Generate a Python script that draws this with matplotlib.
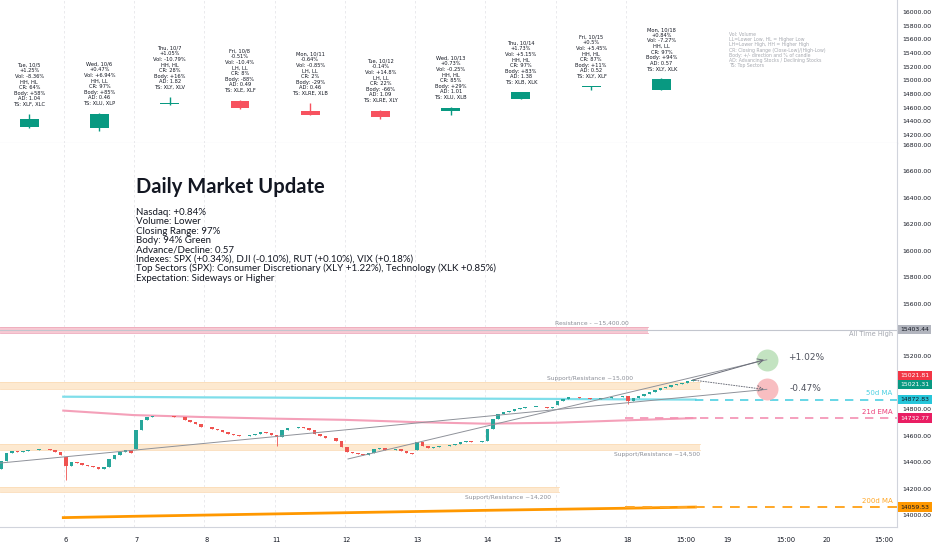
import numpy as np
import matplotlib.pyplot as plt

plt.rcParams['font.family'] = ['DejaVu Sans']

# ---- daily candles (top pane) ----
daily_names = ["Tue, 10/5", "Wed, 10/6", "Thu, 10/7", "Fri, 10/8", "Mon, 10/11",
               "Tue, 10/12", "Wed, 10/13", "Thu, 10/14", "Fri, 10/15", "Mon, 10/18"]
daily_open = [14317, 14302, 14653, 14698, 14551, 14551, 14551, 14727, 14905, 14860]
daily_high = [14507, 14522, 14756, 14712, 14668, 14566, 14610, 14834, 14922, 15030]
daily_low = [14302, 14258, 14639, 14580, 14490, 14434, 14493, 14722, 14862, 14855]
daily_close = [14434, 14507, 14672, 14595, 14493, 14463, 14590, 14829, 14917, 15021]
daily_chg = ["+1.25%", "+0.47%", "+1.05%", "-0.51%", "-0.64%", "-0.14%", "+0.73%", "+1.73%", "+0.5%", "+0.84%"]
daily_vol = ["-8.36%", "+6.94%", "-10.79%", "-10.4%", "-0.85%", "+14.8%", "-0.25%", "+5.15%", "+5.45%", "-7.27%"]
daily_hl = ["HH, HL", "HH, LL", "HH, HL", "LH, LL", "LH, LL", "LH, LL", "HH, HL", "HH, HL", "HH, HL", "HH, LL"]
daily_cr = ["64%", "97%", "28%", "8%", "2%", "22%", "85%", "97%", "87%", "97%"]
daily_body = ["+58%", "+85%", "+16%", "-88%", "-29%", "-66%", "+29%", "+83%", "+11%", "+94%"]
daily_ad = ["1.04", "0.46", "1.82", "0.49", "0.46", "1.09", "1.01", "1.38", "0.52", "0.57"]
daily_ts = ["XLF, XLC", "XLU, XLP", "XLY, XLV", "XLE, XLF", "XLRE, XLB",
            "XLRE, XLY", "XLU, XLB", "XLB, XLK", "XLY, XLF", "XLY, XLK"]

legend_lines = ["Vol: Volume",
                "LL=Lower Low, HL = Higher Low",
                "LH=Lower High, HH = Higher High",
                "CR: Closing Range (Close-Low)/(High-Low)",
                "Body: +/- direction and % of candle",
                "AD: Advancing Stocks / Declining Stocks",
                "TS: Top Sectors"]

# ---- 30 minute bars (main pane), 13 per session ----
session_days = ["5", "6", "7", "8", "11", "12", "13", "14", "15", "18"]
session_open = [14300, 14440, 14500, 14668, 14607, 14515, 14493, 14562, 14830, 14897]
session_closes = [
    [14345, 14410, 14470, 14485, 14478, 14482, 14490, 14495, 14500, 14497, 14490, 14475, 14455],
    [14370, 14400, 14395, 14380, 14370, 14360, 14350, 14365, 14420, 14455, 14480, 14495, 14470],
    [14645, 14720, 14740, 14748, 14752, 14748, 14750, 14745, 14742, 14720, 14700, 14690, 14668],
    [14662, 14650, 14640, 14625, 14612, 14605, 14600, 14598, 14605, 14615, 14630, 14622, 14607],
    [14590, 14640, 14655, 14660, 14662, 14658, 14645, 14610, 14595, 14585, 14580, 14560, 14515],
    [14480, 14470, 14462, 14455, 14470, 14500, 14505, 14495, 14490, 14500, 14485, 14470, 14460],
    [14550, 14520, 14510, 14515, 14520, 14525, 14530, 14540, 14555, 14560, 14555, 14550, 14562],
    [14650, 14730, 14765, 14780, 14790, 14800, 14810, 14815, 14818, 14820, 14815, 14812, 14820],
    [14865, 14880, 14890, 14895, 14888, 14882, 14878, 14880, 14884, 14888, 14892, 14895, 14897],
    [14862, 14885, 14900, 14915, 14930, 14945, 14958, 14970, 14980, 14990, 15000, 15012, 15021.31],
]
long_wick_lows = {13: 14265, 52: 14520, 117: 14840}

# moving averages, one value per session boundary (days 6 .. 18, then last bar)
ma50 = [14895, 14893, 14890, 14888, 14885, 14882, 14880, 14878, 14875, 14873]
ema21 = [14790, 14756, 14741, 14729, 14720, 14703, 14691, 14698, 14716, 14733]
ma200 = [13980, 13990, 13999, 14008, 14017, 14026, 14035, 14043, 14051, 14060]

# support / resistance zones: (low, high, last bar index, label)
zones = [(15380, 15425, 120.7, "Resistance - ~15,400.00"),
         (14955, 15005, 130.3, "Support/Resistance ~15,000"),
         (14490, 14540, 130.3, "Support/Resistance ~14,500"),
         (14172, 14215, 104.2, "Support/Resistance ~14,200")]
ath = 15403.44
projections = [1.02, -0.47]

text_lines = ["Nasdaq: +0.84%",
              "Volume: Lower",
              "Closing Range: 97%",
              "Body: 94% Green",
              "Advance/Decline: 0.57",
              "Indexes: SPX (+0.34%), DJI (-0.10%), RUT (+0.10%), VIX (+0.18%)",
              "Top Sectors (SPX): Consumer Discretionary (XLY +1.22%), Technology (XLK +0.85%)",
              "Expectation: Sideways or Higher"]

GREEN = '#26a69a'
RED = '#ef5350'
DGREEN = '#089981'
DRED = '#f7525f'
TXT = '#131722'
GRID = '#e6e7ea'

fig = plt.figure(figsize=(9.32, 5.5), dpi=100)
W, H = 932, 550
ax_top = fig.add_axes([0, 407 / H, 897 / W, 143 / H])
ax = fig.add_axes([0, 23 / H, 897 / W, 384 / H])

x_left, x_right = 0.79, 166.8
day_starts = [13 * k for k in range(1, len(session_days))]
grid_x = [d - 0.37 for d in day_starts]

for a in (ax, ax_top):
    a.set_xlim(x_left, x_right)
    for s in ('left', 'top', 'bottom'):
        a.spines[s].set_visible(False)
    a.spines['right'].set_color('#d1d4dc')
    a.yaxis.tick_right()
    a.tick_params(axis='y', length=0, labelsize=4.4, pad=4, colors=TXT)
    for gx in grid_x:
        a.axvline(gx, color=GRID, lw=0.6, ls=(0, (3, 3)), zorder=0)
ax_top.spines['bottom'].set_visible(True)
ax_top.spines['bottom'].set_color('#d1d4dc')
ax.spines['bottom'].set_visible(True)
ax.spines['bottom'].set_color('#d1d4dc')

# ---- top pane ----
ax_top.set_ylim(14083, 16176)
ax_top.set_yticks(np.arange(14200, 16001, 200))
ax_top.set_yticklabels([f"{v:.2f}" for v in np.arange(14200, 16001, 200)])
ax_top.set_xticks([])
for k in range(len(daily_names)):
    xc = 13 * k + 6.2
    up = daily_close[k] >= daily_open[k]
    col = DGREEN if up else DRED
    ax_top.vlines(xc, daily_low[k], daily_high[k], color=col, lw=1.0, zorder=2)
    lo = min(daily_open[k], daily_close[k])
    ht = max(abs(daily_close[k] - daily_open[k]), 8)
    ax_top.bar(xc, ht, bottom=lo, width=3.5, color=col, zorder=3)
    note = "\n".join([daily_names[k], daily_chg[k], "Vol: " + daily_vol[k], daily_hl[k],
                      "CR: " + daily_cr[k], "Body: " + daily_body[k], "AD: " + daily_ad[k],
                      "TS: " + daily_ts[k]])
    ax_top.annotate(note, xy=(xc, daily_high[k]), xytext=(0, 5), textcoords='offset points',
                    ha='center', va='bottom', fontsize=3.7, linespacing=1.15, color=TXT)

fig.text(729 / W, 1 - 32 / H, "\n".join(legend_lines), ha='left', va='top',
         fontsize=3.3, linespacing=1.05, color='#a6a9b0')

# ---- main pane ----
ax.set_ylim(13909, 16815)
main_ticks = [14000, 14200, 14400, 14600, 14800, 15200, 15600, 15800, 16000, 16200, 16400, 16600, 16800]
ax.set_yticks(main_ticks)
ax.set_yticklabels([f"{v:.2f}" for v in main_ticks])

xt = day_starts + [127.7, 135.5, 146.2, 153.8, 164.4]
xl = session_days[1:] + ["15:00", "19", "15:00", "20", "15:00"]
ax.set_xticks(xt)
ax.set_xticklabels(xl)
ax.tick_params(axis='x', length=0, labelsize=4.8, pad=7, colors=TXT)

# zones
for lo, hi, xe, lab in zones:
    if lab.startswith("Resistance -"):
        fc, ec = '#f7c9d3', '#eeaabb'
    else:
        fc, ec = '#fde9d0', '#fbdcb8'
    ax.fill_between([x_left, xe], lo, hi, color=fc, lw=0, zorder=1)
    ax.plot([x_left, xe], [hi, hi], color=ec, lw=0.6, zorder=1)
    ax.plot([x_left, xe], [lo, lo], color=ec, lw=0.6, zorder=1)

ax.text(110.3, 15448, zones[0][3], ha='center', va='center', fontsize=4.3, color='#8a8d96')
ax.text(110.0, 15032, zones[1][3], ha='center', va='center', fontsize=4.3, color='#8a8d96')
ax.text(122.4, 14460, zones[2][3], ha='center', va='center', fontsize=4.3, color='#8a8d96')
ax.text(94.8, 14136, zones[3][3], ha='center', va='center', fontsize=4.3, color='#8a8d96')

# all time high
ax.axhline(ath, color='#c3c6ce', lw=0.8, zorder=1)
ax.text(166.0, 15368, "All Time High", ha='right', va='center', fontsize=4.8, color='#a3a6af')

# moving averages
ma_x = [d - 0.5 for d in day_starts] + [129.5]
ax.plot(ma_x, ma50, color='#80deea', lw=1.6, zorder=2)
ax.plot([ma_x[-1], x_right], [ma50[-1], ma50[-1]], color='#4dd0e1', lw=1.2, ls=(0, (5, 4)), zorder=2)
ax.plot(ma_x, ema21, color='#f4a0b9', lw=1.5, zorder=2)
ax.plot([ma_x[-2], x_right], [ema21[-1], ema21[-1]], color='#f48fb1', lw=1.2, ls=(0, (5, 4)), zorder=2)
ax.plot(ma_x, ma200, color='#ff9800', lw=2.0, zorder=2)
ax.plot([ma_x[-2], x_right], [ma200[-1], ma200[-1]], color='#ffa726', lw=1.4, ls=(0, (5, 4)), zorder=2)
ax.text(166.0, 14925, "50d MA", ha='right', va='center', fontsize=5, color='#4dd0e1')
ax.text(166.0, 14780, "21d EMA", ha='right', va='center', fontsize=5, color='#ec407a')
ax.text(166.0, 14106, "200d MA", ha='right', va='center', fontsize=5, color='#ffa726')

# intraday candles
for k, closes in enumerate(session_closes):
    prev = session_open[k]
    for j, c in enumerate(closes):
        i = 13 * k + j
        col = GREEN if c >= prev else RED
        lo = min(prev, c)
        hi = max(prev, c)
        wl = long_wick_lows.get(i, lo)
        ax.vlines(i, wl, hi, color=col, lw=0.6, zorder=3)
        ax.bar(i, max(hi - lo, 3), bottom=lo, width=0.65, color=col, zorder=3)
        prev = c

# trend lines and projections
last_x = 13 * (len(session_closes) - 1) + 12
last_close = session_closes[-1][-1]
target_x = 142.7
targets = [last_close * (1 + p / 100) for p in projections]
ax.plot([65.2, target_x], [14424, targets[0]], color='#8f929a', lw=0.7, zorder=4)
ax.plot([0.8, target_x], [14393, targets[1]], color='#8f929a', lw=0.7, zorder=4)
ax.annotate("", xy=(target_x - 0.5, targets[0]), xytext=(last_x, last_close),
            arrowprops=dict(arrowstyle='->', color='#6a6d78', lw=0.7, shrinkA=0, shrinkB=0), zorder=5)
ax.annotate("", xy=(target_x - 0.5, targets[1]), xytext=(last_x, last_close),
            arrowprops=dict(arrowstyle='->', color='#6a6d78', lw=0.7, ls=':', shrinkA=0, shrinkB=0), zorder=5)
ax.scatter([target_x], [targets[0]], s=250, color='#b9dfb7', alpha=0.85, lw=0, zorder=3)
ax.scatter([target_x], [targets[1]], s=250, color='#f7b3b7', alpha=0.85, lw=0, zorder=3)
ax.text(149.9, targets[0] + 15, "+1.02%", ha='center', va='center', fontsize=6.5, color='#50535e')
ax.text(149.9, targets[1] + 10, "-0.47%", ha='center', va='center', fontsize=6.5, color='#50535e')

# price tags on the right scale
def price_tag(a, y, text, fc, tc, dy=0):
    a.annotate(text, xy=(1, y), xycoords=a.get_yaxis_transform(), xytext=(2.5, dy),
               textcoords='offset points', ha='left', va='center', fontsize=4.4, color=tc,
               bbox=dict(boxstyle='square,pad=0.35', fc=fc, ec='none'),
               annotation_clip=False, zorder=10)

price_tag(ax, ath, "15403.44", '#b2b5be', TXT)
price_tag(ax, 15021.81, "15021.81", '#f23645', 'white', dy=3)
price_tag(ax, last_close, "15021.31", DGREEN, 'white', dy=-3)
price_tag(ax, ma50[-1], "14872.83", '#26c6da', TXT)
price_tag(ax, ema21[-1], "14732.77", '#e91e63', 'white')
price_tag(ax, ma200[-1], "14059.53", '#ff9800', TXT)

# text block
fig.text(136 / W, 1 - 187 / H, "Daily Market Update", ha='left', va='center',
         fontsize=14.5, fontweight='bold', family=['Lato', 'DejaVu Sans'], color=TXT)
fig.text(136 / W, 1 - 208 / H, "\n".join(text_lines), ha='left', va='top',
         fontsize=7.0, linespacing=1.04, family=['Lato', 'DejaVu Sans'], color=TXT)

fig.savefig("out.png", dpi=100, facecolor='white')
